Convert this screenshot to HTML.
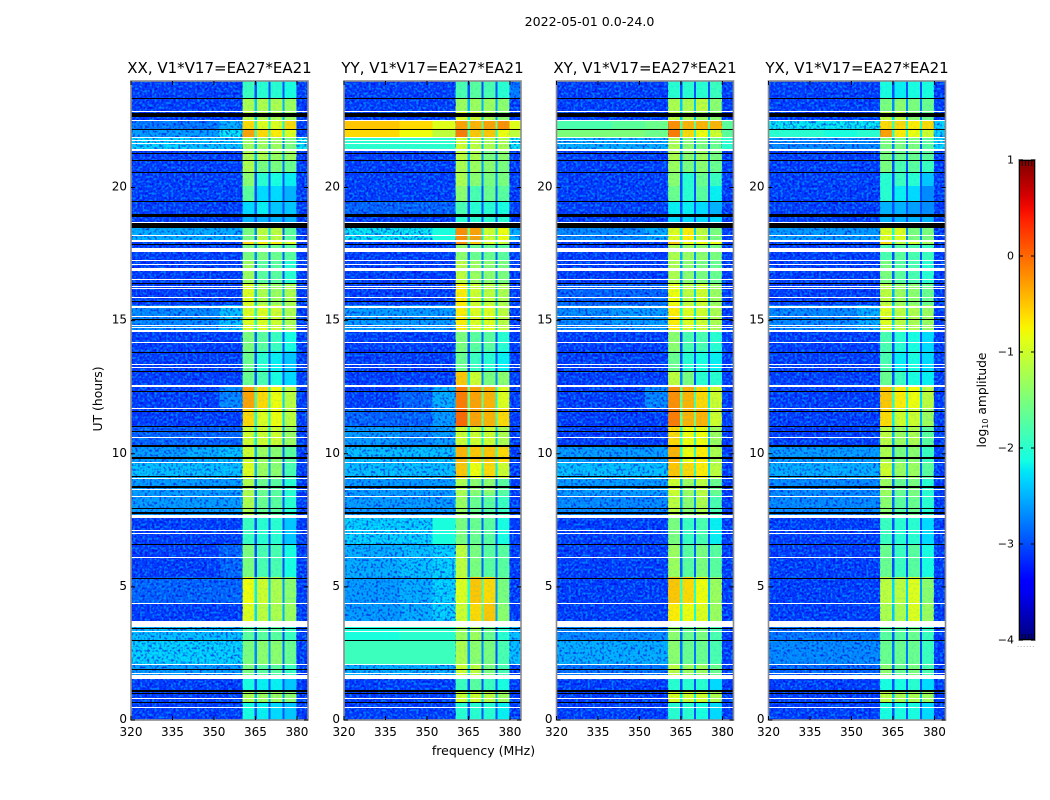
<!DOCTYPE html>
<html lang="en">
<head>
<meta charset="utf-8">
<title>2022-05-01 0.0-24.0</title>
<style>
html,body{margin:0;padding:0;background:#fff;width:1050px;height:800px;overflow:hidden}
svg{display:block}
text{font-family:"DejaVu Sans","Liberation Sans",sans-serif;fill:#000}
</style>
</head>
<body>
<svg id="figure" xmlns="http://www.w3.org/2000/svg" width="1050" height="800" viewBox="0 0 1050 800">
  <defs>
    <filter id="speckle-dark" x="0" y="0" width="100%" height="100%" color-interpolation-filters="sRGB">
      <feTurbulence type="fractalNoise" baseFrequency="0.42" numOctaves="1" seed="3"/>
      <feColorMatrix type="matrix" values="0 0 0 0 0  0 0 0 0 0  0 0 0 0 0.85  5 0 0 0 -2.4"/>
    </filter>
    <filter id="speckle-light" x="0" y="0" width="100%" height="100%" color-interpolation-filters="sRGB">
      <feTurbulence type="fractalNoise" baseFrequency="0.42" numOctaves="1" seed="11"/>
      <feColorMatrix type="matrix" values="0 0 0 0 0  0 0 0 0 0.7  0 0 0 0 1  5 0 0 0 -2.4"/>
    </filter>
    <linearGradient id="colorbar-gradient" x1="0" y1="1" x2="0" y2="0"></linearGradient>
  </defs>
  <text x="589.5" y="26" font-size="12.6" text-anchor="middle">2022-05-01 0.0-24.0</text>
  <text x="483.5" y="755" font-size="12.5" text-anchor="middle">frequency (MHz)</text>
  <text transform="translate(102,399) rotate(-90)" font-size="12.4" text-anchor="middle">UT (hours)</text>
  <g id="panels"></g>
  <g id="colorbar"></g>
  <text transform="translate(986,400) rotate(-90)" font-size="12.3" text-anchor="middle">log<tspan font-size="8" dy="2">10</tspan><tspan dy="-2"> amplitude</tspan></text>
</svg>
<script>
// Time-row boundaries in UT hours (top of plot to bottom)
const rowEdgeHours = [24,23.36,22.89,22.52,22.2,21.9,21.42,21.03,20.58,20.05,19.49,18.95,18.49,18.01,17.83,17.28,16.41,15.58,14.65,13.86,13.11,12.58,11.72,11.04,10.33,9.69,9.09,8.45,7.65,6.61,5.37,4.39,3.6,2.99,2.1,1.55,1.09,0.69,0];
// Frequency bands in MHz: [low, high]
const bandEdgesMHz = [[320,340],[340,352],[352,360.4],[360.4,364.7],[365.6,369.7],[370.4,374.8],[375.5,379.8],[379.8,384]];
// log10 amplitude per time row: 320-340, 340-352, 352-360, sub-band 1-4, 380-384
const xxLevels = [
[-3.1,-3.1,-3.1,-1.9,-2,-2,-2.1,-3.1],[-3.1,-3.1,-3.1,-1.2,-1.2,-1.2,-1.3,-3.1],[-3.1,-3.1,-3.1,-1.1,-1.2,-1.2,-1.3,-3.1],[-2.8,-2.8,-2.5,-.6,-.9,-.9,-.6,-3.1],
[-2.6,-2.6,-2.2,-.3,-.6,-.7,-.9,-3.1],[-2.3,-2.4,-2.4,-1.3,-1.3,-1.3,-1.5,-2.2],[-3.1,-3.1,-3.1,-1.2,-1.2,-1.3,-1.3,-3.1],[-3.1,-3.1,-3.1,-1.2,-1.5,-1.5,-1.6,-3.1],
[-3.1,-3.1,-3.1,-1.4,-2,-2.1,-2.2,-3.1],[-3.1,-3.1,-3.1,-1.7,-2.3,-2.3,-2.5,-3.1],[-3.1,-3.1,-3.1,-2.3,-2.2,-2.4,-2.4,-3.1],[-3.1,-3.1,-3.1,-2.5,-2.5,-2.5,-2.5,-3.1],
[-2.5,-2.5,-2.5,-1.5,-1.1,-1.1,-1.7,-3.1],[-3.1,-3.1,-3.1,-.6,-.7,-.7,-.9,-3.1],[-3.1,-3.1,-3.1,-1.5,-1.5,-1.6,-1.7,-3.1],[-3.1,-3.1,-3.1,-1.3,-1.7,-1.7,-2,-3.1],
[-3.1,-3.1,-3.1,-.9,-1.2,-1.3,-1.2,-3.1],[-2.7,-2.7,-2.4,-.9,-.9,-1,-1.2,-3.1],[-3.1,-3.1,-3.1,-1.5,-1.7,-1.9,-2.1,-3.1],[-3.1,-3.1,-3.1,-1.6,-2,-2.2,-2.4,-3.1],
[-3.1,-3.1,-3.1,-1.6,-1.8,-2.1,-2.3,-3.1],[-3.1,-3.1,-2.7,-.3,-.6,-.8,-1.1,-3.1],[-3.1,-3.1,-3.1,-.6,-.9,-.8,-1.1,-3.1],[-2.9,-2.9,-2.9,-1,-1,-1,-1.3,-3.1],
[-2.6,-2.5,-2.4,-1,-1.3,-1.4,-1.7,-3.1],[-2.4,-2.4,-2.4,-.9,-1.3,-1.4,-1.8,-3.1],[-2.6,-2.6,-2.6,-1.2,-1.6,-1.7,-2,-3.1],[-2.6,-2.6,-2.6,-1.2,-1.6,-1.7,-2,-3.1],
[-3.1,-3.1,-3.1,-1.9,-2,-2,-2.4,-3.1],[-3.1,-3.1,-2.9,-1.5,-1.8,-1.8,-2.1,-3.1],[-2.9,-2.9,-2.9,-.8,-1,-1.2,-1.4,-3.1],[-3.1,-3.1,-3.1,-.9,-1.1,-1.2,-1.3,-3.1],
[-2.4,-2.4,-2.4,-1.7,-1.7,-1.7,-1.9,-3.1],[-2.3,-2.3,-2.3,-1.5,-1.4,-1.4,-1.6,-3.1],[-2.6,-2.6,-2.6,-1.5,-1.7,-1.7,-1.9,-3.1],[-3.1,-3.1,-3.1,-2.1,-2.2,-2.2,-2.4,-3.1],
[-3.1,-3.1,-3.1,-1.2,-1.3,-1.3,-1.4,-3.1],[-3.1,-3.1,-3.1,-2.1,-2.2,-2.3,-2.4,-3.1]];
const yyLevels = [
[-3.1,-3.1,-3.1,-1.8,-1.7,-1.8,-2,-2.8],[-3.1,-3.1,-3.1,-1.3,-1.3,-1.3,-1.4,-3.1],[-3.1,-3.1,-3.1,-.9,-1,-1.2,-1.4,-3.1],[-.5,-.6,-.9,-.3,-.4,-.3,-.2,-.9],
[-.6,-.8,-1.1,-.1,-.5,-.5,-.8,-1.1],[-2,-2,-2,-1,-1.1,-1.2,-1.2,-2.2],[-3.1,-3.1,-3.1,-1.1,-1.2,-1.5,-1.4,-3.1],[-3.1,-3.1,-3.1,-1.2,-1.3,-1.4,-1.5,-3.1],
[-3.1,-3.1,-3.1,-1.2,-1.4,-1.5,-1.5,-3.1],[-3.1,-3.1,-3.1,-1.4,-1.8,-1.6,-1.7,-3.1],[-2.9,-2.9,-2.9,-1.8,-2,-2,-2.1,-3.1],[-3.1,-3.1,-3.1,-2,-2,-2,-2,-3.1],
[-2.2,-2.2,-2.1,-.2,-.3,-1,-.8,-2.5],[-3.1,-3.1,-3.1,-.2,-.5,-.9,-1,-3.1],[-3.1,-3.1,-3.1,-1.4,-1.6,-1.6,-1.7,-3.1],[-3.1,-3.1,-3.1,-1.1,-1.3,-1.4,-1.5,-3.1],
[-3.1,-3.1,-3.1,-.7,-1,-1.1,-1.2,-3.1],[-2.6,-2.6,-2.6,-.7,-.9,-.9,-1.1,-3.1],[-3.1,-3.1,-3.1,-1.5,-1.7,-1.7,-2,-3.1],[-3.1,-3.1,-3.1,-1.6,-1.9,-2,-2.2,-3.1],
[-3.1,-3.1,-3.1,-.5,-1,-1.5,-1.4,-3.1],[-3.1,-2.9,-2.5,-.1,-.3,-.4,-.9,-3.1],[-2.9,-2.9,-2.6,0,-.3,-.4,-.6,-3.1],[-2.6,-2.7,-2.6,-1,-1,-1,-1.2,-3.1],
[-2.4,-2.4,-2.4,-.4,-.5,-.5,-.6,-3.1],[-2.4,-2.4,-2.4,-.5,-.8,-.6,-1,-3.1],[-2.6,-2.6,-2.6,-1.2,-1.4,-1.4,-1.7,-3.1],[-2.6,-2.6,-2.6,-1.3,-1.6,-1.7,-1.9,-3.1],
[-2.3,-2.3,-2.1,-1.5,-1.6,-1.7,-2.1,-3.1],[-2.5,-2.4,-2.3,-1.1,-1.5,-1.7,-1.7,-3.1],[-2.6,-2.5,-2.3,-.9,-.5,-.6,-1.5,-3.1],[-2.6,-2.5,-2.3,-1,-.6,-.5,-1.4,-3.1],
[-2.1,-2,-2,-1.3,-1.3,-1.6,-2,-2.4],[-1.9,-1.9,-1.9,-1.2,-1.4,-1.5,-1.8,-2.4],[-2.5,-2.5,-2.5,-1,-1.1,-1.5,-1.8,-3.1],[-3.1,-3.1,-3.1,-1.9,-1.7,-1.9,-2.1,-3.1],
[-3.1,-3.1,-3.1,-1,-1,-1.1,-1.3,-3.1],[-3.1,-3.1,-3.1,-2,-2,-2,-2.2,-3.1]];
const xyLevels = [
[-3.1,-3.1,-3.1,-2,-2,-2,-1.9,-3.1],[-3.1,-3.1,-3.1,-1.2,-1.2,-1.1,-1.4,-3.1],[-3.1,-3.1,-3.1,-1.1,-1.2,-1.3,-1.4,-3.1],[-1.8,-1.7,-1.6,-.2,-.4,-.4,-.4,-1.7],
[-1.5,-1.5,-1.6,-.1,-.6,-.8,-1,-1.7],[-2.5,-2.5,-2.5,-1.2,-1.4,-1.5,-1.6,-2],[-3.1,-3.1,-3.1,-1.2,-1.4,-1.3,-1.5,-3.1],[-3.1,-3.1,-3.1,-1.3,-1.5,-1.4,-1.6,-3.1],
[-3.1,-3.1,-3.1,-1.4,-2,-1.6,-1.9,-3.1],[-3.1,-3.1,-3.1,-1.6,-2,-1.7,-2.2,-3.1],[-3.1,-3.1,-3.1,-2.2,-2.2,-2.3,-2.5,-3.1],[-3.1,-3.1,-3.1,-2.3,-2.3,-2.3,-2.3,-3.1],
[-2.7,-2.7,-2.5,-.9,-.7,-1.1,-1.5,-3.1],[-3.1,-3.1,-3.1,-.5,-.8,-.8,-.8,-3.1],[-3.1,-3.1,-3.1,-1.2,-1.3,-1.4,-1.5,-3.1],[-3.1,-3.1,-3.1,-1.2,-1.4,-1.5,-1.6,-3.1],
[-2.9,-2.9,-2.9,-.8,-1.1,-1,-1.3,-3.1],[-2.7,-2.6,-2.6,-.7,-.9,-1,-1.2,-3.1],[-3.1,-3.1,-3.1,-1.4,-1.8,-1.8,-2,-3.1],[-3.1,-3.1,-3.1,-1.6,-2,-2.1,-2.2,-3.1],
[-3.1,-3.1,-3.1,-1.1,-1.5,-2,-2,-3.1],[-3.1,-3.1,-2.7,-.2,-.4,-.6,-1,-3.1],[-3.1,-3.1,-3.1,-.1,-.4,-.4,-1,-3.1],[-3.1,-3.1,-3.1,-.6,-.8,-.8,-1.3,-3.1],
[-2.6,-2.6,-2.6,-.4,-.8,-.7,-1.2,-3.1],[-2.4,-2.4,-2.4,-.5,-.6,-.7,-1.1,-3.1],[-2.6,-2.6,-2.6,-1,-1.3,-1.1,-1.6,-3.1],[-2.7,-2.7,-2.7,-1.1,-1.4,-1.2,-1.8,-3.1],
[-3.1,-3.1,-3.1,-1.5,-1.9,-1.8,-2.2,-3.1],[-3.1,-3.1,-3.1,-1.3,-1.7,-1.5,-1.7,-3.1],[-3.1,-3.1,-3.1,-.5,-.6,-.8,-1.3,-3.1],[-3.1,-3.1,-3.1,-.7,-.8,-.9,-1.3,-3.1],
[-2.7,-2.7,-2.7,-1.4,-1.6,-1.5,-1.8,-3.1],[-2.5,-2.5,-2.5,-1.4,-1.6,-1.6,-1.8,-3.1],[-2.8,-2.8,-2.8,-1.1,-1.3,-1.3,-1.6,-3.1],[-3.1,-3.1,-3.1,-2,-2,-2,-2.3,-3.1],
[-3.1,-3.1,-3.1,-.9,-1,-1,-1.2,-3.1],[-3.1,-3.1,-3.1,-2,-2,-2.1,-2.3,-3.1]];
const yxLevels = [
[-3.1,-3.1,-3.1,-2.1,-2.2,-2.1,-2.1,-3.1],[-3.1,-3.1,-3.1,-1.5,-1.4,-1.5,-1.6,-3.1],[-3.1,-3.1,-3.1,-1.1,-1.1,-1.4,-1.6,-3.1],[-2.2,-2.2,-2.2,-.6,-.6,-.7,-.6,-2.3],
[-2,-2.1,-2,-.3,-.7,-.8,-1,-2.3],[-2.7,-2.7,-2.7,-1.5,-1.5,-1.5,-1.7,-2.3],[-3.1,-3.1,-3.1,-1.5,-1.6,-1.6,-1.7,-3.1],[-3.1,-3.1,-3.1,-1.5,-1.8,-1.7,-1.9,-3.1],
[-3.1,-3.1,-3.1,-2,-1.9,-2,-2.4,-3.1],[-3.1,-3.1,-3.1,-2,-2.2,-2.3,-2.7,-3.1],[-3.1,-3.1,-3.1,-2.5,-2.5,-2.6,-2.7,-3.1],[-3.1,-3.1,-3.1,-2.5,-2.5,-2.5,-2.5,-3.1],
[-2.6,-2.6,-2.6,-.9,-.9,-1.5,-1.5,-3.1],[-3.1,-3.1,-3.1,-.6,-1.1,-1,-1.2,-3.1],[-3.1,-3.1,-3.1,-1.8,-1.7,-1.8,-1.9,-3.1],[-3.1,-3.1,-3.1,-1.5,-1.7,-1.8,-2,-3.1],
[-3.1,-3.1,-3.1,-1.1,-1.3,-1.4,-1.6,-3.1],[-2.7,-2.7,-2.5,-.9,-1.1,-1.2,-1.3,-3.1],[-3.1,-3.1,-3.1,-1.8,-2,-2.1,-2.3,-3.1],[-3.1,-3.1,-3.1,-1.8,-2.2,-2.1,-2.3,-3.1],
[-3.1,-3.1,-3.1,-1.6,-1.9,-2.1,-2.2,-3.1],[-3.1,-3.1,-3.1,-.5,-.7,-.8,-1.1,-3.1],[-3.1,-3.1,-3.1,-.6,-1,-1,-1.3,-3.1],[-3.1,-3.1,-3.1,-1.1,-1.3,-1.2,-1.7,-3.1],
[-2.6,-2.6,-2.6,-1.2,-1.5,-1.4,-1.9,-3.1],[-2.5,-2.5,-2.5,-1,-1.3,-1.3,-1.7,-3.1],[-2.7,-2.7,-2.7,-1.3,-1.6,-1.5,-2,-3.1],[-2.7,-2.7,-2.7,-1.4,-1.7,-1.6,-2,-3.1],
[-3.1,-3.1,-3.1,-1.9,-2,-2,-2.3,-3.1],[-3.1,-3.1,-3.1,-1.6,-1.9,-1.7,-2.1,-3.1],[-3.1,-3.1,-3.1,-1.1,-1.1,-.9,-1.4,-3.1],[-3.1,-3.1,-3.1,-1.2,-1.2,-.9,-1.3,-3.1],
[-2.8,-2.8,-2.8,-1.7,-1.7,-1.6,-1.9,-3.1],[-2.7,-2.7,-2.7,-1.6,-1.6,-1.6,-1.9,-3.1],[-2.9,-2.9,-2.9,-1.4,-1.6,-1.5,-1.8,-3.1],[-3.1,-3.1,-3.1,-2.1,-2.1,-2,-2.3,-3.1],
[-3.1,-3.1,-3.1,-1.1,-1.2,-1.2,-1.3,-3.1],[-3.1,-3.1,-3.1,-2.1,-2.1,-2.1,-2.3,-3.1]];
// Flagged integrations [start hour, end hour], drawn white
const whiteFlagHours = [[22.89,22.85],[22.52,22.48],[21.9,21.86],[21.78,21.74],[21.69,21.65],[21.46,21.38],[18.72,18.68],[18.22,18.18],[18.01,17.97],[17.72,17.59],[17.28,17.24],[17.13,17.09],[16.96,16.88],[16.56,16.52],[16.3,16.26],[16.23,16.19],[15.89,15.85],[15.55,15.49],[15.19,15.15],[14.84,14.8],[14.76,14.72],[14.65,14.57],[14.2,14.16],[13.37,13.33],[13.26,13.22],[12.6,12.56],[12.54,12.5],[11.72,11.68],[10.63,10.59],[9.69,9.65],[9.09,9.05],[8.68,8.64],[8.43,8.39],[7.7,7.59],[7.12,7.08],[7.02,6.98],[6.12,6.08],[4.39,4.35],[3.73,3.48],[3.36,3.32],[2.1,2.06],[1.78,1.74],[1.7,1.55],[0.83,0.79],[0.49,0.45]];
// Dropped integrations [start hour, end hour], drawn black
const blackFlagHours = [[23.36,23.32],[22.78,22.66],[22.2,22.16],[21.31,21.27],[21.03,20.99],[20.58,20.54],[19.49,19.45],[19,18.96],[18.95,18.91],[18.65,18.49],[17.88,17.84],[16.41,16.37],[15.74,15.7],[15.06,15.02],[13.84,13.8],[13.11,13.07],[12.36,12.32],[11.61,11.57],[11.04,11],[10.84,10.8],[10.31,10.27],[9.86,9.82],[9.18,9.14],[8.77,8.73],[7.98,7.94],[7.81,7.74],[6.61,6.57],[5.35,5.31],[3.46,3.42],[2.99,2.95],[1.92,1.88],[1.11,1.07],[1.01,0.97],[0.69,0.65]];
const panelTitles = ["XX, V1*V17=EA27*EA21","YY, V1*V17=EA27*EA21","XY, V1*V17=EA27*EA21","YX, V1*V17=EA27*EA21"];
const panelLevels = [xxLevels,yyLevels,xyLevels,yxLevels];
const panelKeys = ["xx","yy","xy","yx"];
const freqTicks = [320,335,350,365,380];
const hourTicks = [0,5,10,15,20];
const colorbarTicks = [1,0,-1,-2,-3,-4];

const NS = "http://www.w3.org/2000/svg";
const PLOT = {top:81,bottom:720,width:177,lefts:[131,344,556.5,768.5]};
const FREQ = {min:320,max:384};
const HOUR = {min:0,max:24};
const CBAR = {x:1019,width:16,top:160,bottom:640,min:-4,max:1};
const BAND_LOW = 360.4;
const BAND_HIGH = 379.8;
const SMOOTH_ABOVE = -2.2;

function make(tag, attrs, parent){
  const el = document.createElementNS(NS, tag);
  for (const k in attrs) el.setAttribute(k, attrs[k]);
  parent.appendChild(el);
  return el;
}
function xScale(left, f){ return left + (f - FREQ.min) / (FREQ.max - FREQ.min) * PLOT.width; }
function yScale(h){ return PLOT.bottom - (h - HOUR.min) / (HOUR.max - HOUR.min) * (PLOT.bottom - PLOT.top); }
function ramp(t, pts){
  for (let i = 1; i < pts.length; i++) {
    if (t <= pts[i][0]) {
      const a = pts[i-1], b = pts[i];
      return a[1] + (b[1]-a[1]) * (t-a[0]) / (b[0]-a[0]);
    }
  }
  return pts[pts.length-1][1];
}
function jet(v){
  const t = Math.max(0, Math.min(1, (v - CBAR.min) / (CBAR.max - CBAR.min)));
  const r = ramp(t, [[0,0],[.35,0],[.66,1],[.89,1],[1,.5]]);
  const g = ramp(t, [[0,0],[.125,0],[.375,1],[.64,1],[.91,0],[1,0]]);
  const b = ramp(t, [[0,.5],[.11,1],[.34,1],[.65,0],[1,0]]);
  return "rgb(" + Math.round(r*255) + "," + Math.round(g*255) + "," + Math.round(b*255) + ")";
}
function addTexture(parent, filterId, x0, x1, opacity){
  const r = make("rect", {x:x0, y:PLOT.top, width:x1-x0, height:PLOT.bottom-PLOT.top, filter:"url(#" + filterId + ")", opacity:opacity}, parent);
  
  
}

const panelsGroup = document.getElementById("panels");
panelTitles.forEach(function(title, p){
  const left = PLOT.lefts[p];
  const key = panelKeys[p];
  const levels = panelLevels[p];
  const g = make("g", {}, panelsGroup);
  
  

  const heat = make("g", {"shape-rendering":"crispEdges"}, g);
  
  

  levels.forEach(function(row, r){
    const y0 = Math.round(yScale(rowEdgeHours[r]));
    const y1 = Math.round(yScale(rowEdgeHours[r+1]));
    // Background behind sub-band gaps comes from the neighbouring sub-bands
    for (let b = 3; b < 6; b++) {
      const gapX0 = xScale(left, bandEdgesMHz[b][1]);
      const gapX1 = xScale(left, bandEdgesMHz[b+1][0]);
      const gap = make("rect", {x:gapX0, y:y0, width:gapX1-gapX0+0.5, height:y1-y0, fill:jet(Math.max(-3, Math.min(row[b], row[b+1]) - 1.2))}, heat);
      
      
    }
    row.forEach(function(v, c){
      const x0 = xScale(left, bandEdgesMHz[c][0]);
      const x1 = xScale(left, bandEdgesMHz[c][1]);
      const cell = make("rect", {x:x0, y:y0, width:x1-x0, height:y1-y0, fill:jet(v)}, heat);
      
      
    });
  });

  const bandX0 = xScale(left, BAND_LOW);
  const bandX1 = xScale(left, BAND_HIGH);
  addTexture(g, "speckle-dark", left, bandX0, "0.6");
  addTexture(g, "speckle-light", left, bandX0, "0.6");
  addTexture(g, "speckle-dark", bandX1, left + PLOT.width, "0.6");
  addTexture(g, "speckle-light", bandX1, left + PLOT.width, "0.6");
  addTexture(g, "speckle-light", bandX0, bandX1, "0.12");

  // Strong off-band rows are smooth in the data, so they sit above the speckle
  const smooth = make("g", {"shape-rendering":"crispEdges"}, g);
  
  
  levels.forEach(function(row, r){
    const y0 = Math.round(yScale(rowEdgeHours[r]));
    const y1 = Math.round(yScale(rowEdgeHours[r+1]));
    row.forEach(function(v, c){
      if ((c < 3 || c === 7) && v > SMOOTH_ABOVE) {
        const x0 = xScale(left, bandEdgesMHz[c][0]);
        const x1 = xScale(left, bandEdgesMHz[c][1]);
        const cell = make("rect", {x:x0, y:y0, width:x1-x0, height:y1-y0, fill:jet(v)}, smooth);
        
        
      }
    });
  });

  const flags = make("g", {"shape-rendering":"crispEdges"}, g);
  
  
  whiteFlagHours.forEach(function(f){
    const y0 = Math.round(yScale(f[0]));
    const h = Math.max(1, Math.round(yScale(f[1])) - y0);
    const bar = make("rect", {x:left, y:y0, width:PLOT.width, height:h, fill:"#fff"}, flags);
    
    
  });
  blackFlagHours.forEach(function(f){
    const y0 = Math.round(yScale(f[0]));
    const h = Math.max(1, Math.round(yScale(f[1])) - y0);
    const bar = make("rect", {x:left, y:y0, width:PLOT.width, height:h, fill:"#000"}, flags);
    
    
  });

  const frame = make("rect", {x:left, y:PLOT.top, width:PLOT.width, height:PLOT.bottom-PLOT.top, fill:"none", stroke:"#8c8c8c", "stroke-width":"1.6"}, g);
  
  

  const t = make("text", {x:left+PLOT.width/2, y:73, "font-size":"15", "text-anchor":"middle"}, g);
  t.textContent = title;
  
  

  freqTicks.forEach(function(f){
    const x = xScale(left, f);
    const bottomTick = make("line", {x1:x, x2:x, y1:PLOT.bottom, y2:PLOT.bottom-4, stroke:"#000"}, g);
    
    
    const topTick = make("line", {x1:x, x2:x, y1:PLOT.top, y2:PLOT.top+4, stroke:"#000"}, g);
    
    
    const label = make("text", {x:x, y:736, "font-size":"12", "text-anchor":"middle"}, g);
    label.textContent = f;
    
    
  });
  hourTicks.forEach(function(h){
    const y = yScale(h);
    const leftTick = make("line", {x1:left, x2:left+4, y1:y, y2:y, stroke:"#000"}, g);
    
    
    const rightTick = make("line", {x1:left+PLOT.width, x2:left+PLOT.width-4, y1:y, y2:y, stroke:"#000"}, g);
    
    
    const label = make("text", {x:left-4, y:y+3, "font-size":"12", "text-anchor":"end"}, g);
    label.textContent = h;
    
    
  });
});

// Colorbar
const grad = document.getElementById("colorbar-gradient");
for (let i = 0; i <= 40; i++) {
  const stop = make("stop", {offset:(i/40), "stop-color":jet(CBAR.min + (CBAR.max-CBAR.min)*i/40)}, grad);
  
  
}
const cbGroup = document.getElementById("colorbar");
const cbH = CBAR.bottom - CBAR.top;
const cbRect = make("rect", {x:CBAR.x, y:CBAR.top, width:CBAR.width, height:cbH, fill:"url(#colorbar-gradient)"}, cbGroup);


const cbInner = make("rect", {x:CBAR.x+0.5, y:CBAR.top+0.5, width:CBAR.width-1, height:cbH-1, fill:"none", stroke:"#000", "stroke-width":"1"}, cbGroup);


const cbOuter = make("rect", {x:CBAR.x-0.5, y:CBAR.top-0.5, width:CBAR.width+1, height:cbH+1, fill:"none", stroke:"#b0b0b0", "stroke-width":"1"}, cbGroup);


colorbarTicks.forEach(function(v){
  const y = CBAR.bottom - (v - CBAR.min) / (CBAR.max - CBAR.min) * cbH;
  const a = make("line", {x1:CBAR.x, x2:CBAR.x+4, y1:y, y2:y, stroke:"#000"}, cbGroup);
  
  
  const b = make("line", {x1:CBAR.x+CBAR.width-4, x2:CBAR.x+CBAR.width, y1:y, y2:y, stroke:"#000"}, cbGroup);
  
  
  const label = make("text", {x:CBAR.x-5, y:y+3.5, "font-size":"11", "text-anchor":"end"}, cbGroup);
  label.textContent = v < 0 ? "\u2212" + Math.abs(v) : String(v);
  
  
});
for (let i = 1; i < 5; i++) {
  const x = CBAR.x + i * CBAR.width / 5;
  const topMark = make("line", {x1:x, x2:x, y1:CBAR.top, y2:CBAR.top+6, stroke:"#000", "stroke-width":"0.8"}, cbGroup);
  
  
  const bottomMark = make("line", {x1:x, x2:x, y1:CBAR.bottom-6, y2:CBAR.bottom, stroke:"#000", "stroke-width":"0.8"}, cbGroup);
  
  
}
const dots = make("text", {x:CBAR.x-2, y:647, "font-size":"7", "letter-spacing":"0.8", style:"fill:#888"}, cbGroup);
dots.textContent = "......";


</script>
</body>
</html>
